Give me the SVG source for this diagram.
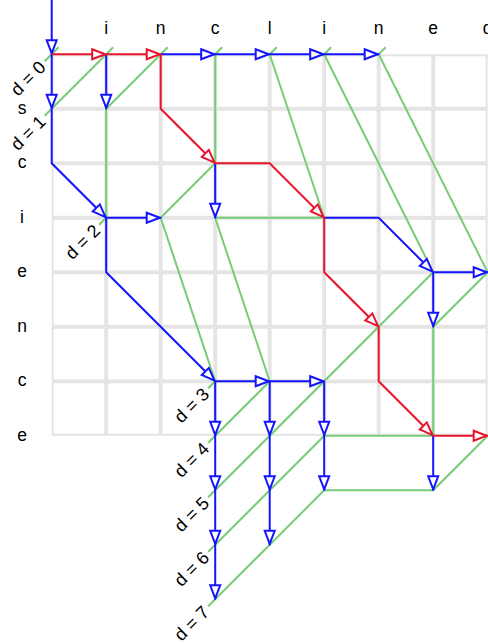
<svg xmlns="http://www.w3.org/2000/svg" width="488" height="644" viewBox="0 0 488 644">
<style>
.lbl{font-family:"Liberation Sans",Arial,sans-serif;font-size:17.5px;fill:#000;text-anchor:middle}
.dl{font-family:"Liberation Sans",Arial,sans-serif;font-size:18px;fill:#000;text-anchor:end}
.g{fill:none;stroke:#77cc77;stroke-width:2;stroke-linejoin:round}
.b{fill:none;stroke:#1414ff;stroke-width:2;marker-end:url(#ab)}
.r{fill:none;stroke:#e8142c;stroke-width:2;marker-end:url(#ar)}
</style>
<defs>
<pattern id="cell" x="51.7" y="54.3" width="54.5" height="54.5" patternUnits="userSpaceOnUse">
<rect x="1" y="1" width="52.5" height="52.5" fill="none" stroke="#dcdcdc" stroke-width="1.5"/>
</pattern>
<marker id="ab" viewBox="-16 -7 17 14" refX="0" refY="0" markerWidth="17" markerHeight="14" markerUnits="userSpaceOnUse" orient="auto">
<path d="M-1,0 L-14,-5 L-14,5 Z" fill="#fff" stroke="#1414ff" stroke-width="2"/>
</marker>
<marker id="ar" viewBox="-16 -7 17 14" refX="0" refY="0" markerWidth="17" markerHeight="14" markerUnits="userSpaceOnUse" orient="auto">
<path d="M-1,0 L-14,-5 L-14,5 Z" fill="#fff" stroke="#e8142c" stroke-width="2"/>
</marker>
</defs>
<rect width="488" height="644" fill="#fff"/>
<g id="grid">
<rect x="51.7" y="54.3" width="436" height="381.5" fill="url(#cell)"/>
</g>
<g id="top-labels">
<text class="lbl" x="106.2" y="34">i</text>
<text class="lbl" x="160.7" y="34">n</text>
<text class="lbl" x="215.2" y="34">c</text>
<text class="lbl" x="269.7" y="34">l</text>
<text class="lbl" x="324.2" y="34">i</text>
<text class="lbl" x="378.7" y="34">n</text>
<text class="lbl" x="433.2" y="34">e</text>
<text class="lbl" x="487.7" y="34">d</text>
</g>
<g id="left-labels">
<text class="lbl" x="22" y="113.8">s</text>
<text class="lbl" x="22" y="168.3">c</text>
<text class="lbl" x="22" y="222.8">i</text>
<text class="lbl" x="22" y="277.3">e</text>
<text class="lbl" x="22" y="331.8">n</text>
<text class="lbl" x="22" y="386.3">c</text>
<text class="lbl" x="22" y="440.8">e</text>
</g>
<g id="contours">
<path id="c0" class="g" d="M44.7,61.3 L58.7,47.3"/>
<path id="c1" class="g" d="M44.7,115.8 L113.2,47.3"/>
<path id="c2" class="g" d="M99.2,224.8 L106.2,217.8 L106.2,108.8 L160.7,54.3 L167.7,47.3"/>
<path id="c3" class="g" d="M208.2,388.3 L215.2,381.3 L160.7,217.8 L215.2,163.3 L215.2,54.3 L222.2,47.3"/>
<path id="c4" class="g" d="M208.2,442.8 L215.2,435.8 L269.7,381.3 L215.2,217.8 L324.2,217.8 L269.7,54.3 L276.7,47.3"/>
<path id="c5" class="g" d="M208.2,497.3 L215.2,490.3 L433.2,272.3 L324.2,54.3 L331.2,47.3"/>
<path id="c6" class="g" d="M208.2,551.8 L215.2,544.8 L324.2,435.8 L433.2,435.8 L433.2,326.8 L487.7,272.3 L378.7,54.3 L385.7,47.3"/>
<path id="c7" class="g" d="M208.2,606.3 L215.2,599.3 L324.2,490.3 L433.2,490.3 L487.7,435.8 L494.7,428.8"/>
</g>
<g id="d-labels">
<text class="dl" transform="translate(42.2,63.8) rotate(-45)" y="6.4">d = 0</text>
<text class="dl" transform="translate(42.2,118.3) rotate(-45)" y="6.4">d = 1</text>
<text class="dl" transform="translate(96.7,227.3) rotate(-45)" y="6.4">d = 2</text>
<text class="dl" transform="translate(205.7,390.8) rotate(-45)" y="6.4">d = 3</text>
<text class="dl" transform="translate(205.7,445.3) rotate(-45)" y="6.4">d = 4</text>
<text class="dl" transform="translate(205.7,499.8) rotate(-45)" y="6.4">d = 5</text>
<text class="dl" transform="translate(205.7,554.3) rotate(-45)" y="6.4">d = 6</text>
<text class="dl" transform="translate(205.7,608.8) rotate(-45)" y="6.4">d = 7</text>
</g>
<g id="connectors">
<g id="explored">
<path class="b" d="M51.7,0 V54.3"/>
<path class="b" d="M51.7,54.3 V108.8"/>
<path class="b" d="M106.2,54.3 V108.8"/>
<path class="b" d="M160.7,54.3 H215.2"/>
<path class="b" d="M215.2,54.3 H269.7"/>
<path class="b" d="M269.7,54.3 H324.2"/>
<path class="b" d="M324.2,54.3 H378.7"/>
<path class="b" d="M51.7,108.8 V163.3 L106.2,217.8"/>
<path class="b" d="M106.2,217.8 H160.7"/>
<path class="b" d="M106.2,217.8 V272.3 L215.2,381.3"/>
<path class="b" d="M215.2,163.3 V217.8"/>
<path class="b" d="M324.2,217.8 H378.7 L433.2,272.3"/>
<path class="b" d="M433.2,272.3 H487.7"/>
<path class="b" d="M433.2,272.3 V326.8"/>
<path class="b" d="M215.2,381.3 H269.7"/>
<path class="b" d="M269.7,381.3 H324.2"/>
<path class="b" d="M215.2,381.3 V435.8"/>
<path class="b" d="M215.2,435.8 V490.3"/>
<path class="b" d="M215.2,490.3 V544.8"/>
<path class="b" d="M215.2,544.8 V599.3"/>
<path class="b" d="M269.7,381.3 V435.8"/>
<path class="b" d="M269.7,435.8 V490.3"/>
<path class="b" d="M269.7,490.3 V544.8"/>
<path class="b" d="M324.2,381.3 V435.8"/>
<path class="b" d="M324.2,435.8 V490.3"/>
<path class="b" d="M433.2,435.8 V490.3"/>
</g>
<g id="solution">
<path class="r" d="M51.7,54.3 H106.2"/>
<path class="r" d="M106.2,54.3 H160.7"/>
<path class="r" d="M160.7,54.3 V108.8 L215.2,163.3"/>
<path class="r" d="M215.2,163.3 H269.7 L324.2,217.8"/>
<path class="r" d="M324.2,217.8 V272.3 L378.7,326.8"/>
<path class="r" d="M378.7,326.8 V381.3 L433.2,435.8"/>
<path class="r" d="M433.2,435.8 H487.7"/>
</g>
</g>
</svg>
